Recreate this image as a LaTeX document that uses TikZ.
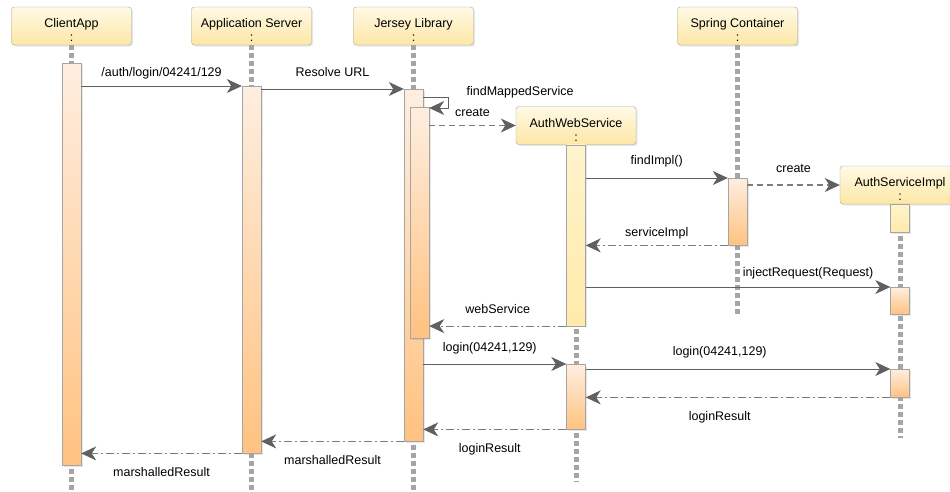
\documentclass[tikz,border=0pt]{standalone}
\usepackage{fontspec}
\setmainfont{Liberation Sans}
\usetikzlibrary{arrows.meta,shadows,positioning}
\definecolor{headtop}{RGB}{255, 250, 230}
\definecolor{headbot}{RGB}{253, 231, 165}
\definecolor{bartop}{RGB}{254, 238, 224}
\definecolor{barbot}{RGB}{255, 194, 128}
\definecolor{newtop}{RGB}{255, 243, 204}
\definecolor{newbot}{RGB}{255, 234, 170}
\definecolor{edgegray}{RGB}{165, 165, 165}
\definecolor{msggray}{RGB}{96, 96, 96}
\definecolor{dashgray}{RGB}{125, 125, 125}
\tikzstyle{head} = [rectangle, draw=edgegray, top color=headtop, bottom color=headbot,
  rounded corners=3pt, minimum width=120pt, minimum height=38pt, align=center,
  inner sep=0pt, drop shadow={shadow xshift=1.5pt, shadow yshift=-1.5pt, opacity=0.2}]
\tikzstyle{bar} = [rectangle, draw=edgegray, top color=bartop, bottom color=barbot,
  minimum width=19pt, inner sep=0pt, anchor=north,
  drop shadow={shadow xshift=1.5pt, shadow yshift=-1.5pt, opacity=0.2}]
\tikzstyle{newbar} = [bar, top color=newtop, bottom color=newbot]
\tikzstyle{lifeline} = [draw=edgegray, line width=5pt, dash pattern=on 5pt off 3pt]
\tikzstyle{call} = [draw=msggray, line width=0.8pt,
  -{Stealth[length=15pt, width=14pt, inset=4.5pt, color=msggray]}]
\tikzstyle{create} = [call, draw=dashgray, line width=1.2pt, dash pattern=on 6pt off 4pt]
\tikzstyle{reply} = [call, draw=dashgray, line width=1.2pt, dash pattern=on 8pt off 3pt on 2pt off 3pt]
\tikzstyle{msgup} = [anchor=base, inner sep=0pt, yshift=13pt]
\tikzstyle{msgdown} = [anchor=base, inner sep=0pt, yshift=-23pt]
\newcommand{\lifehead}[1]{\rule{0pt}{17pt}#1\\[-1pt]:}

\begin{document}
\begin{tikzpicture}[x=1pt, y=-1pt, font=\fontsize{12.5pt}{15pt}\selectfont]

  \useasboundingbox (0,0) rectangle (950,491);

  %%%%%%%%%%%%%%%%%%%%%%%%%%%%%%%%%%%%%%%%%%%%%%%%%%%%%%%%%%%%%%
  %                    PARTICIPANTS                            %
  %%%%%%%%%%%%%%%%%%%%%%%%%%%%%%%%%%%%%%%%%%%%%%%%%%%%%%%%%%%%%%

  \node [head] (client)   at (71.5,26)  {\lifehead{ClientApp}};
  \node [head] (server)   at (251.5,26) {\lifehead{Application Server}};
  \node [head] (jersey)   at (413.5,26) {\lifehead{Jersey Library}};
  \node [head] (spring)   at (737.5,26) {\lifehead{Spring Container}};
  \node [head] (authws)   at (576,125.5) {\lifehead{AuthWebService}};
  \node [head] (authimpl) at (900,185)  {\lifehead{AuthServiceImpl}};

  \draw [lifeline] (client.south)   -- (client.south |- 0,491);
  \draw [lifeline] (server.south)   -- (server.south |- 0,491);
  \draw [lifeline] (jersey.south)   -- (jersey.south |- 0,490);
  \draw [lifeline] (spring.south)   -- (spring.south |- 0,317);
  \draw [lifeline] (authws.south)   -- (authws.south |- 0,482);
  \draw [lifeline] (authimpl.south) -- (authimpl.south |- 0,438);

  %%%%%%%%%%%%%%%%%%%%%%%%%%%%%%%%%%%%%%%%%%%%%%%%%%%%%%%%%%%%%%
  %                    ACTIVATIONS                             %
  %%%%%%%%%%%%%%%%%%%%%%%%%%%%%%%%%%%%%%%%%%%%%%%%%%%%%%%%%%%%%%

  \node [bar, minimum height=402pt] (client-bar)  at (71.5,63)  {};
  \node [bar, minimum height=367pt] (server-bar)  at (251.5,86) {};
  \node [bar, minimum height=352pt] (jersey-bar)  at (413.5,89) {};
  \node [bar, minimum height=231pt] (jersey-bar2) at (419.5,107) {};
  \node [newbar, minimum height=181pt] (authws-life) at (authws.south) {};
  \node [bar, minimum height=65pt]  (authws-bar)  at (576,364)  {};
  \node [bar, minimum height=67pt]  (spring-bar)  at (737.5,178) {};
  \node [newbar, minimum height=28pt] (authimpl-life) at (authimpl.south) {};
  \node [bar, minimum height=27pt]  (authimpl-bar1) at (900,287) {};
  \node [bar, minimum height=28pt]  (authimpl-bar2) at (900,369) {};

  %%%%%%%%%%%%%%%%%%%%%%%%%%%%%%%%%%%%%%%%%%%%%%%%%%%%%%%%%%%%%%
  %                    MESSAGES                                %
  %%%%%%%%%%%%%%%%%%%%%%%%%%%%%%%%%%%%%%%%%%%%%%%%%%%%%%%%%%%%%%

  \draw [call] (client-bar.east |- server-bar.north) -- node [msgup, yshift=-3pt] {/auth/login/04241/129} (server-bar.north west);
  \draw [call] (server-bar.east |- jersey-bar.north) -- node [msgup] {Resolve URL} (jersey-bar.north west);
  \draw [call] (jersey-bar.east |- 0,97) -- ++(25,0)
    node [anchor=base west, inner sep=0pt, xshift=18pt, yshift=2pt] {findMappedService}
    |- (jersey-bar2.east |- 0,108);
  \draw [create] (jersey-bar2.east |- authws.west) -- node [msgup, yshift=-4pt] {create} (authws.west);

  \draw [call] (authws-life.east |- spring-bar.north) -- node [msgup, yshift=1pt] {findImpl()} (spring-bar.north west);
  \draw [create] (spring-bar.east |- authimpl.west) -- node [msgup] {create} (authimpl.west);
  \draw [reply] (spring-bar.south west) -- node [msgup, yshift=-4pt] {serviceImpl} (authws-life.east |- spring-bar.south west);
  \draw [call] (authws-life.east |- authimpl-bar1.north) -- node [msgup, pos=0.73, yshift=-2pt] {injectRequest(Request)} (authimpl-bar1.north west);
  \draw [reply] (authws-life.south west) -- node [msgup] {webService} (jersey-bar2.east |- authws-life.south west);

  \draw [call] (jersey-bar.east |- authws-bar.north) -- node [msgup, pos=0.465] {login(04241,129)} (authws-bar.north west);
  \draw [call] (authws-bar.east |- authimpl-bar2.north) -- node [msgup, pos=0.44, yshift=1pt] {login(04241,129)} (authimpl-bar2.north west);
  \draw [reply] (authimpl-bar2.south west) -- node [msgdown, pos=0.56] {loginResult} (authws-bar.east |- authimpl-bar2.south west);
  \draw [reply] (authws-bar.south west) -- node [msgdown, pos=0.535] {loginResult} (jersey-bar.east |- authws-bar.south west);
  \draw [reply] (jersey-bar.south west) -- node [msgdown] {marshalledResult} (server-bar.east |- jersey-bar.south west);
  \draw [reply] (server-bar.south west) -- node [msgdown] {marshalledResult} (client-bar.east |- server-bar.south west);

\end{tikzpicture}
\end{document}
